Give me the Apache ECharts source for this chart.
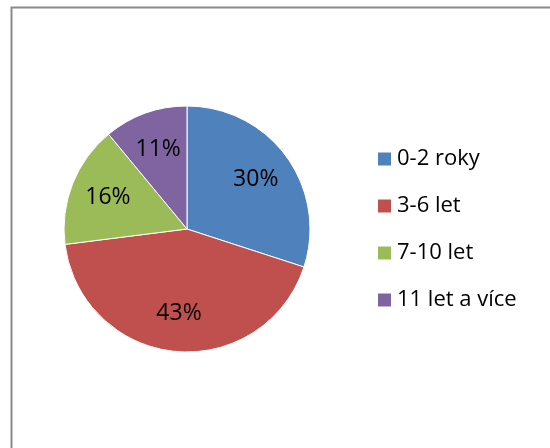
<!DOCTYPE html>
<html>
<head>
<meta charset="utf-8">
<script src="https://cdn.jsdelivr.net/npm/echarts@6/dist/echarts.min.js"></script>
<style>
  html, body { margin: 0; padding: 0; background: #fff; }
  #chart { width: 550px; height: 448px; }
</style>
</head>
<body>
<div id="chart"></div>
<script>
const categories = ['0-2 roky', '3-6 let', '7-10 let', '11 let a více']
const values = [30, 43, 16, 11]
const colors = ['#4F81BD', '#C0504D', '#9BBB59', '#8064A2']

const myChart = echarts.init(document.getElementById('chart'))
const font = '"Open Sans", "Liberation Sans", sans-serif'

const pieData = categories.map((name, i) => ({
  name: name,
  value: values[i],
  itemStyle: { color: colors[i] },
}))

const options = {
  animation: false,
  backgroundColor: '#fff',
  graphic: [
    {
      type: 'rect',
      shape: { x: 11.5, y: 7.5, width: 600, height: 500 },
      style: { fill: 'none', stroke: '#8a8a8a', lineWidth: 2 },
      silent: true,
    },
  ],
  legend: {
    orient: 'vertical',
    left: 376,
    top: 148,
    padding: 0,
    itemWidth: 15,
    itemHeight: 15,
    itemGap: 25,
    icon: 'rect',
    textStyle: { fontFamily: font, fontSize: 22, color: '#000' },
    data: categories,
  },
  series: [
    {
      type: 'pie',
      center: [187, 229],
      radius: [0, 123],
      startAngle: 90,
      clockwise: true,
      label: { show: false },
      labelLine: { show: false },
      itemStyle: { borderColor: '#fff', borderWidth: 1 },
      emphasis: { disabled: true },
      data: pieData,
    },
    {
      // only for label placement further out than 'inside'
      type: 'pie',
      center: [187, 229],
      radius: [0, 164],
      startAngle: 90,
      clockwise: true,
      silent: true,
      z: 3,
      itemStyle: { color: 'rgba(0,0,0,0)' },
      label: {
        show: true,
        position: 'inside',
        formatter: '{d}%',
        fontFamily: font,
        fontSize: 23,
        color: '#000',
      },
      labelLine: { show: false },
      emphasis: { disabled: true },
      data: pieData.map(d => ({ name: d.name, value: d.value })),
      legendHoverLink: false,
    },
  ],
}

myChart.setOption(options)
</script>
</body>
</html>
